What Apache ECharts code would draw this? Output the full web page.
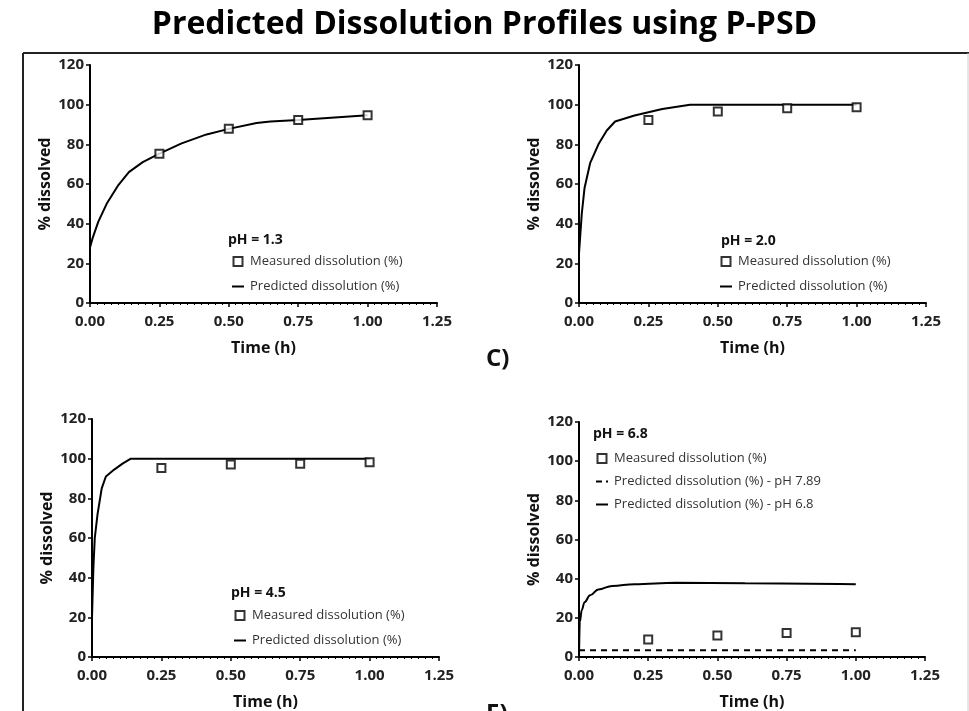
<!DOCTYPE html>
<html>
<head>
<meta charset="utf-8">
<title>Predicted Dissolution Profiles using P-PSD</title>
<script src="https://cdn.jsdelivr.net/npm/echarts@6/dist/echarts.min.js"></script>
<style>
  html, body { margin: 0; padding: 0; background: #fff; }
  #chart { width: 969px; height: 711px; }
</style>
</head>
<body>
<div id="chart"></div>
<script>
// measured points (same sampling times for every pH)
const timeMeasured = [0.25, 0.5, 0.75, 1.0]
const measuredPH13 = [75.3, 87.8, 92.3, 94.7]
const measuredPH20 = [92.3, 96.5, 98.2, 98.7]
const measuredPH45 = [95.3, 97.0, 97.5, 98.2]
const measuredPH68 = [9.0, 11.0, 12.2, 12.7]

// predicted curves
const timePredPH13 = [0, 0.01, 0.03, 0.06, 0.1, 0.14, 0.19, 0.25, 0.33, 0.42, 0.5, 0.6, 0.65, 0.75, 1.0]
const predPH13 = [28, 33, 41, 50, 59, 66, 71, 75.3, 80.5, 85, 87.8, 90.8, 91.5, 92.3, 94.7]

const timePredPH20 = [0, 0.01, 0.02, 0.04, 0.07, 0.1, 0.13, 0.2, 0.3, 0.4, 1.0]
const predPH20 = [25, 45, 58, 70.5, 80, 87, 91.5, 94.5, 97.8, 100, 100]

const timePredPH45 = [0, 0.005, 0.01, 0.02, 0.035, 0.05, 0.08, 0.11, 0.14, 1.0]
const predPH45 = [20, 45, 60, 72, 85, 91, 94.5, 97.5, 100, 100]

const timePredPH68 = [0, 0.003, 0.01, 0.02, 0.04, 0.07, 0.12, 0.2, 0.35, 0.6, 1.0]
const predPH68 = [0, 18, 24, 28, 31.5, 34.5, 36.3, 37.2, 37.9, 37.7, 37.2]

const timePredPH789 = [0, 1.0]
const predPH789 = [3.5, 3.5]

const panelLabels = ['pH = 1.3', 'pH = 2.0', 'pH = 4.5', 'pH = 6.8']
const xTicks = [0, 0.25, 0.5, 0.75, 1.0, 1.25]
const yTicks = [0, 20, 40, 60, 80, 100, 120]

const FONT = 'Open Sans'
const MEASURED = 'Measured dissolution (%)'
const PREDICTED = 'Predicted dissolution (%)'
const PRED_789 = 'Predicted dissolution (%) - pH 7.89'
const PRED_68 = 'Predicted dissolution (%) - pH 6.8'

// legend icons
const SQUARE = 'path://M0,0L10,0L10,10L0,10Z'
const SOLID = 'path://M0,0L12,0L12,2L0,2Z'
const DASHDOT = 'path://M0,0L6,0L6,2L0,2Z M10,0L12,0L12,2L10,2Z'

const zip = (xs, ys) => xs.map((x, i) => [x, ys[i]])

const grids = [
  { left: 90, top: 65, width: 347, height: 238 },
  { left: 579, top: 65, width: 347, height: 238 },
  { left: 92, top: 419, width: 347, height: 239 },
  { left: 579, top: 422, width: 346, height: 236 }
]

function xAxis(i) {
  return {
    type: 'value',
    gridIndex: i,
    min: xTicks[0],
    max: xTicks[xTicks.length - 1],
    interval: 0.25,
    name: 'Time (h)',
    nameLocation: 'middle',
    nameGap: 37,
    nameTextStyle: { fontFamily: FONT, fontWeight: 'bold', fontSize: 16, color: '#111' },
    axisLine: { show: true, onZero: false, lineStyle: { color: '#000', width: 2 } },
    axisTick: { show: true, length: 4, lineStyle: { color: '#000', width: 1.5 } },
    minorTick: { show: true, splitNumber: 10, length: 2, lineStyle: { color: '#000' } },
    splitLine: { show: false },
    axisLabel: {
      formatter: v => v.toFixed(2),
      fontFamily: FONT,
      fontWeight: 'bold',
      fontSize: 15,
      color: '#222',
      margin: 11
    }
  }
}

function yAxis(i) {
  return {
    type: 'value',
    gridIndex: i,
    min: yTicks[0],
    max: yTicks[yTicks.length - 1],
    interval: 20,
    name: '% dissolved',
    nameLocation: 'middle',
    nameGap: 37,
    nameTextStyle: { fontFamily: FONT, fontWeight: 'bold', fontSize: 16, color: '#111' },
    axisLine: { show: true, onZero: false, lineStyle: { color: '#000', width: 2 } },
    axisTick: { show: true, length: 4, lineStyle: { color: '#000', width: 1.5 } },
    splitLine: { show: false },
    axisLabel: { fontFamily: FONT, fontWeight: 'bold', fontSize: 15, color: '#222', margin: 6 }
  }
}

function measured(i, ys) {
  return {
    name: MEASURED,
    type: 'scatter',
    xAxisIndex: i,
    yAxisIndex: i,
    symbol: 'rect',
    symbolSize: 8,
    z: 5,
    itemStyle: { color: '#fff', borderColor: '#000', borderWidth: 2 },
    data: zip(timeMeasured, ys)
  }
}

function predicted(i, name, xs, ys, extra) {
  return Object.assign({
    name: name,
    type: 'line',
    xAxisIndex: i,
    yAxisIndex: i,
    symbol: 'none',
    smooth: false,
    z: 2,
    lineStyle: { color: '#000', width: 2 },
    itemStyle: { color: '#000' },
    data: zip(xs, ys)
  }, extra || {})
}

function legendItem(n) {
  if (n === MEASURED) {
    return { name: n, icon: SQUARE, itemStyle: { color: '#fff', borderColor: '#000', borderWidth: 2 } }
  }
  return { name: n, icon: n === PRED_789 ? DASHDOT : SOLID, itemStyle: { color: '#000', borderWidth: 0 } }
}

function legend(left, top, gap, names) {
  return {
    left: left,
    top: top,
    orient: 'vertical',
    padding: 0,
    itemWidth: 12,
    itemHeight: 9,
    itemGap: gap,
    selectedMode: false,
    textStyle: { fontFamily: FONT, fontSize: 13, color: '#333', padding: [0, 0, 0, 1] },
    data: names.map(legendItem)
  }
}

function label(text, left, top, size) {
  return {
    text: text,
    left: left,
    top: top,
    padding: 0,
    textStyle: { fontFamily: FONT, fontWeight: 'bold', fontSize: size, color: '#111' }
  }
}

const chart = echarts.init(document.getElementById('chart'), null, { renderer: 'canvas' })

chart.setOption({
  backgroundColor: '#fff',
  animation: false,
  title: [
    {
      text: 'Predicted Dissolution Profiles using P-PSD',
      left: 'center',
      top: 9,
      padding: 0,
      textStyle: { fontFamily: FONT, fontWeight: 'bold', fontSize: 32, color: '#000' }
    },
    label('C)', 486, 347, 24),
    label('E)', 486, 702, 24),
    label(panelLabels[0], 228, 233, 14),
    label(panelLabels[1], 721, 234, 14),
    label(panelLabels[2], 231, 586, 14),
    label(panelLabels[3], 593, 427, 14)
  ],
  legend: [
    legend(232, 255, 12, [MEASURED, PREDICTED]),
    legend(720, 255, 12, [MEASURED, PREDICTED]),
    legend(234, 609, 12, [MEASURED, PREDICTED]),
    legend(596, 452, 10, [MEASURED, PRED_789, PRED_68])
  ],
  graphic: [
    { type: 'line', shape: { x1: 23, y1: 53, x2: 23, y2: 711 }, style: { stroke: '#222', lineWidth: 2 } },
    { type: 'line', shape: { x1: 23, y1: 53, x2: 969, y2: 53 }, style: { stroke: '#222', lineWidth: 2 } },
    { type: 'line', shape: { x1: 968, y1: 53, x2: 968, y2: 711 }, style: { stroke: '#ccc', lineWidth: 1 } }
  ],
  grid: grids,
  xAxis: [0, 1, 2, 3].map(xAxis),
  yAxis: [0, 1, 2, 3].map(yAxis),
  series: [
    predicted(0, PREDICTED, timePredPH13, predPH13),
    measured(0, measuredPH13),
    predicted(1, PREDICTED, timePredPH20, predPH20),
    measured(1, measuredPH20),
    predicted(2, PREDICTED, timePredPH45, predPH45),
    measured(2, measuredPH45),
    predicted(3, PRED_789, timePredPH789, predPH789, {
      lineStyle: { color: '#000', width: 2, type: [6, 5] }
    }),
    predicted(3, PRED_68, timePredPH68, predPH68, { smooth: 0.4, smoothMonotone: 'x' }),
    measured(3, measuredPH68)
  ]
})
</script>
</body>
</html>
